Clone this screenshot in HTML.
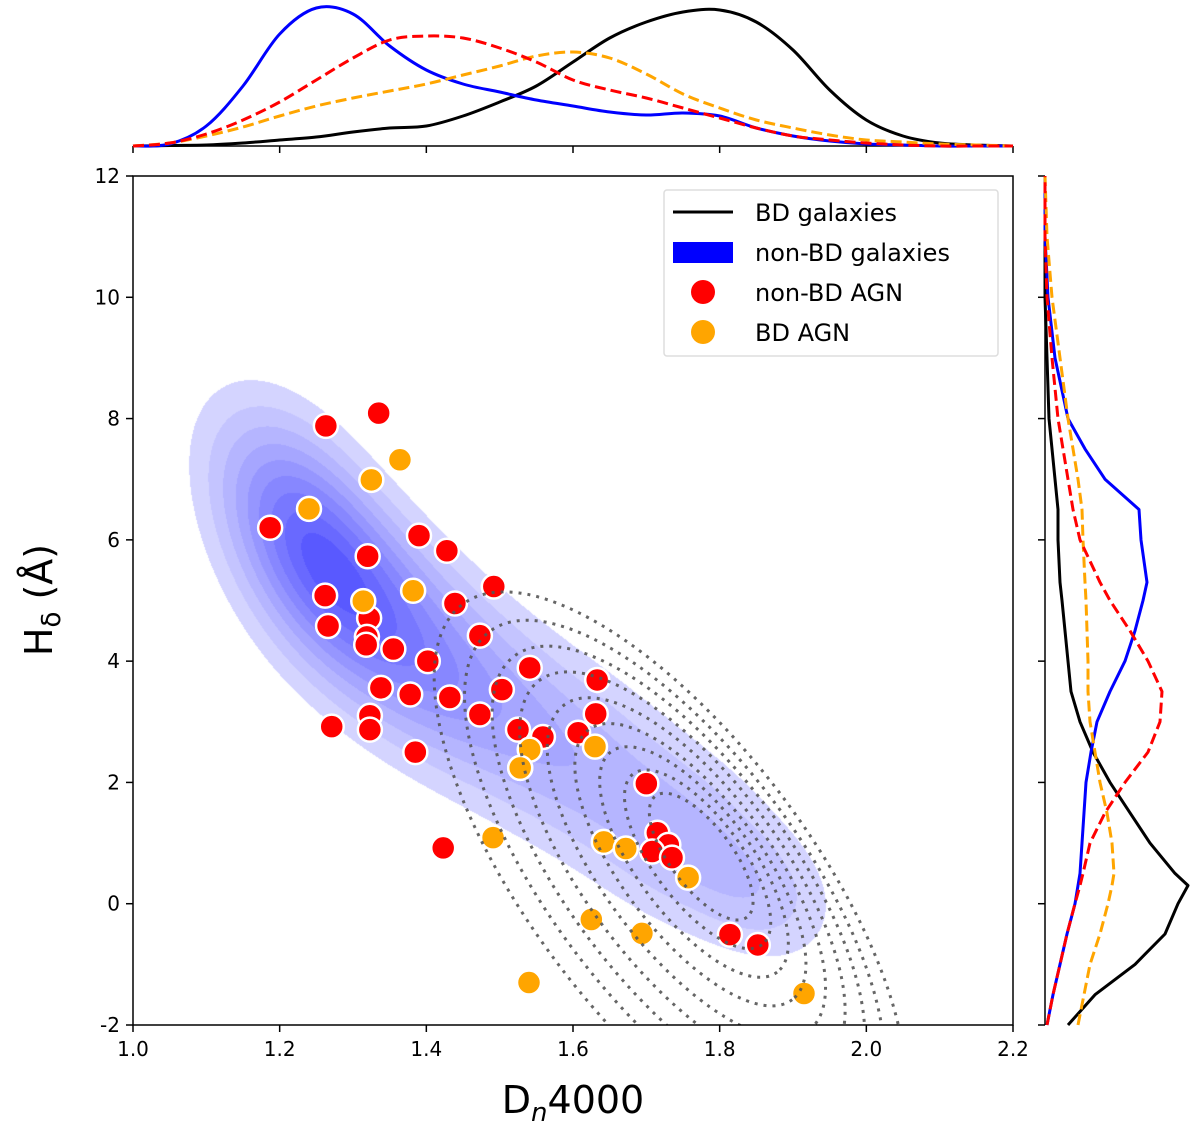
<!DOCTYPE html>
<html><head><meta charset="utf-8">
<style>
html,body{margin:0;padding:0;background:#fff;overflow:hidden;width:1200px;height:1147px;}
#wrap{position:relative;width:1200px;height:1147px;overflow:hidden;font-family:"DejaVu Sans","Liberation Sans",sans-serif;}
canvas,svg{position:absolute;left:0;top:0;display:block;}
</style></head>
<body>
<div id="wrap">
<canvas id="kde" width="1200" height="1147"></canvas>
<svg id="svg" width="1200" height="1147" xmlns="http://www.w3.org/2000/svg"></svg>
</div>
<script>
// ---- data ----
const xTicks = [1.0,1.2,1.4,1.6,1.8,2.0,2.2];
const yTicks = [-2,0,2,4,6,8,10,12];
const redX = [1.263,1.335,1.187,1.262,1.266,1.320,1.322,1.319,1.318,1.390,1.428,1.355,1.402,1.439,1.473,1.492,1.338,1.378,1.432,1.323,1.323,1.271,1.385,1.473,1.503,1.541,1.525,1.559,1.528,1.607,1.631,1.633,1.700,1.423,1.715,1.730,1.708,1.735,1.814,1.852];
const redY = [7.88,8.09,6.20,5.08,4.58,5.73,4.71,4.40,4.27,6.07,5.82,4.20,4.00,4.95,4.42,5.23,3.56,3.45,3.40,3.10,2.87,2.92,2.50,3.12,3.53,3.89,2.87,2.75,2.24,2.82,3.13,3.69,1.98,0.92,1.17,0.97,0.86,0.76,-0.51,-0.68];
const orgX = [1.240,1.325,1.364,1.314,1.382,1.541,1.528,1.630,1.491,1.642,1.672,1.757,1.625,1.694,1.540,1.915];
const orgY = [6.51,6.99,7.32,4.99,5.16,2.54,2.24,2.59,1.09,1.02,0.91,0.43,-0.26,-0.49,-1.30,-1.48];
const mX = [1.00,1.05,1.10,1.15,1.20,1.25,1.30,1.35,1.40,1.45,1.50,1.55,1.60,1.65,1.70,1.75,1.80,1.85,1.90,1.95,2.00,2.05,2.10,2.15,2.20];
const topBlack = [0,0.5,1,3,6,9,14,18,20,30,44,60,84,108,124,134,136,124,96,56,26,10,3,1,0];
const topBlue  = [0,2,20,60,112,138,132,100,76,62,54,46,40,34,31,33,30,18,10,5,2,1,0,0,0];
const topRed   = [0,3,12,26,44,66,88,106,110,108,98,84,66,56,48,38,28,18,10,6,3,1,0,0,0];
const topOrg   = [0,3,10,19,30,40,48,55,62,71,80,90,94,88,72,52,38,26,18,11,6,4,2,1,0];
const mY = [-2,-1.5,-1,-0.5,0,0.3,0.5,1,1.5,2,2.5,3,3.5,4,4.5,5,5.3,6,6.5,7,7.5,8,9,10,11,12];
const rBlack = [23,50,90,120,133,143,130,105,85,65,48,35,26,23,20,17,15,13,13,10,7,4,2,0,0,0];
const rBlue  = [2,8,15,22,30,33,35,37,39,41,46,52,65,80,90,98,102,96,94,60,40,23,10,3,0,0];
const rRed   = [2,8,15,22,30,35,38,45,60,80,103,115,117,103,85,65,55,35,28,23,18,13,7,2,0,0];
const rOrg   = [33,39,45,55,63,67,69,67,62,55,50,45,43,43,42,41,40,38,37,33,28,23,15,7,2,0];

const X0=133,X1=1013,Y0=1025,Y1=176;
const sx = v => X0+(v-1.0)/1.2*(X1-X0);
const sy = v => Y0-(v+2)/14*(Y0-Y1);
const TB=146;
const RX=1045;

// ---- blue filled density ----
(function(){
  const c=document.getElementById('kde').getContext('2d');
  const comps=[[298,525,88,50,62,1.0],[372,610,80,56,50,0.8],[465,690,75,60,40,0.55],[575,760,75,62,38,0.45],[685,840,70,58,38,0.45],[770,900,55,45,38,0.3]];
  const W=X1-X0,H=Y0-Y1;
  const img=c.createImageData(W,H);
  let max=0; const D=new Float32Array(W*H);
  const pre=comps.map(k=>{const a=k[4]*Math.PI/180;return [k[0],k[1],k[2],k[3],Math.cos(a),Math.sin(a),k[5]];});
  for(let j=0;j<H;j++)for(let i=0;i<W;i++){
    const px=i+X0,py=j+Y1; let d=0;
    for(const k of pre){const dx=px-k[0],dy=py-k[1];const u=dx*k[4]+dy*k[5],v=-dx*k[5]+dy*k[4];d+=k[6]*Math.exp(-0.5*(u*u/(k[2]*k[2])+v*v/(k[3]*k[3])));}
    D[j*W+i]=d; if(d>max)max=d;
  }
  const th=[0.14,0.24,0.34,0.44,0.54,0.64,0.74,0.84,0.93];
  for(let p=0;p<W*H;p++){
    const r=D[p]/max; let L=0; for(const t of th) if(r>=t) L++;
    if(L>0){const a=0.11+L*0.06; img.data[p*4]=Math.round(255*(1-a)); img.data[p*4+1]=Math.round(255*(1-a)); img.data[p*4+2]=255; img.data[p*4+3]=255;}
  }
  c.putImageData(img,X0,Y1);
})();

const NS='http://www.w3.org/2000/svg';
const svg=document.getElementById('svg');
function mk(tag,attrs,parent){const e=document.createElementNS(NS,tag);for(const k in attrs)e.setAttribute(k,attrs[k]);(parent||svg).appendChild(e);return e;}
function smooth(pts){
  let d='M'+pts[0][0].toFixed(1)+','+pts[0][1].toFixed(1);
  for(let i=0;i<pts.length-1;i++){
    const p0=pts[Math.max(0,i-1)],p1=pts[i],p2=pts[i+1],p3=pts[Math.min(pts.length-1,i+2)];
    const c1=[p1[0]+(p2[0]-p0[0])/6,p1[1]+(p2[1]-p0[1])/6],c2=[p2[0]-(p3[0]-p1[0])/6,p2[1]-(p3[1]-p1[1])/6];
    d+='C'+c1[0].toFixed(1)+','+c1[1].toFixed(1)+' '+c2[0].toFixed(1)+','+c2[1].toFixed(1)+' '+p2[0].toFixed(1)+','+p2[1].toFixed(1);
  }
  return d;
}

const defs=mk('defs',{});
const cp=mk('clipPath',{id:'clipMain'},defs);
mk('rect',{x:X0,y:Y1,width:X1-X0,height:Y0-Y1},cp);

const ptsG=mk('g',{'clip-path':'url(#clipMain)'});


for(let i=0;i<redX.length;i++){
  const c=mk('circle',{cx:sx(redX[i]),cy:sy(redY[i]),r:12,fill:'#ff0000',stroke:'#fff','stroke-width':2.5},ptsG);
  
  
}
for(let i=0;i<orgX.length;i++){
  const c=mk('circle',{cx:sx(orgX[i]),cy:sy(orgY[i]),r:12,fill:'#ffa500',stroke:'#fff','stroke-width':2.5},ptsG);
  
  
}

const ctG=mk('g',{'clip-path':'url(#clipMain)'});


const scales=[1,0.89,0.79,0.69,0.59,0.49,0.40,0.31,0.22];
scales.forEach(s=>{
  const cx=670+(1-s)*40, cy=880-(1-s)*30;
  const e=mk('ellipse',{cx:cx,cy:cy,rx:345*s,ry:140*s,transform:`rotate(53 ${cx} ${cy})`,fill:'none',stroke:'#555','stroke-opacity':0.9,'stroke-width':3,'stroke-dasharray':'3 6'},ctG);
  
  
});

const fr=mk('rect',{x:X0,y:Y1,width:X1-X0,height:Y0-Y1,fill:'none',stroke:'#000','stroke-width':1.5});



xTicks.forEach(t=>{
  mk('line',{x1:sx(t),x2:sx(t),y1:Y0,y2:Y0+7,stroke:'#000','stroke-width':1.5});
  mk('line',{x1:sx(t),x2:sx(t),y1:TB,y2:TB+7,stroke:'#000','stroke-width':1.5});
  const tx=mk('text',{x:sx(t),y:Y0+31,'font-size':20,'text-anchor':'middle',fill:'#000'});
  tx.textContent=t.toFixed(1);
  
  
});
yTicks.forEach(t=>{
  mk('line',{x1:X0-7,x2:X0,y1:sy(t),y2:sy(t),stroke:'#000','stroke-width':1.5});
  mk('line',{x1:RX-7,x2:RX,y1:sy(t),y2:sy(t),stroke:'#000','stroke-width':1.5});
  const tx=mk('text',{x:X0-13,y:sy(t)+7,'font-size':20,'text-anchor':'end',fill:'#000'});
  tx.textContent=t;
  
  
});

const xl=mk('text',{x:573,y:1113,'font-size':38,'text-anchor':'middle',fill:'#000'});
xl.innerHTML='D<tspan font-size="26" dy="8" font-style="italic">n</tspan><tspan dy="-8">4000</tspan>';


const yl=mk('text',{x:0,y:0,'font-size':38,'text-anchor':'middle',fill:'#000',transform:'translate(52,600) rotate(-90)'});
yl.innerHTML='H<tspan font-size="26" dy="8">δ</tspan><tspan dy="-8"> (Å)</tspan>';



mk('line',{x1:X0,x2:X1,y1:TB,y2:TB,stroke:'#000','stroke-width':1.5});
function topPath(arr,color,dash,name){
  const pts=arr.map((v,i)=>[sx(mX[i]),TB-v]);
  const p=mk('path',{d:smooth(pts),fill:'none',stroke:color,'stroke-width':3,'stroke-dasharray':dash||'none','stroke-linejoin':'round'});
  
  
}
topPath(topBlack,'#000',null,'top-bd-galaxies-curve');
topPath(topBlue,'#0000ff',null,'top-non-bd-galaxies-curve');
topPath(topOrg,'#ffa500','11 5','top-bd-agn-curve');
topPath(topRed,'#ff0000','11 5','top-non-bd-agn-curve');

mk('line',{x1:RX,x2:RX,y1:Y1,y2:Y0,stroke:'#000','stroke-width':1.5});
function rPath(arr,color,dash,name){
  let d='';arr.forEach((v,i)=>{d+=(i?'L':'M')+(RX+v).toFixed(1)+','+sy(mY[i]).toFixed(1);});
  const p=mk('path',{d:d,fill:'none',stroke:color,'stroke-width':3,'stroke-dasharray':dash||'none','stroke-linejoin':'round'});
  
  
}
rPath(rBlack,'#000',null,'right-bd-galaxies-curve');
rPath(rBlue,'#0000ff',null,'right-non-bd-galaxies-curve');
rPath(rOrg,'#ffa500','11 5','right-bd-agn-curve');
rPath(rRed,'#ff0000','11 5','right-non-bd-agn-curve');

const lg=mk('g',{});


mk('rect',{x:664,y:190,width:334,height:166,rx:3,fill:'#fff','fill-opacity':0.85,stroke:'#ddd','stroke-width':1.5},lg);
const items=[['line','#000','BD galaxies'],['rect','#0000ff','non-BD galaxies'],['dot','#ff0000','non-BD AGN'],['dot','#ffa500','BD AGN']];
items.forEach((it,i)=>{
  const y=212+i*40;
  const g=mk('g',{},lg);
  
  
  if(it[0]==='line') mk('line',{x1:673,x2:733,y1:y,y2:y,stroke:it[1],'stroke-width':3},g);
  else if(it[0]==='rect') mk('rect',{x:673,y:y-10,width:60,height:21,fill:it[1]},g);
  else mk('circle',{cx:703,cy:y,r:12,fill:it[1]},g);
  const t=mk('text',{x:755,y:y+9,'font-size':24,fill:'#000'},g);
  t.textContent=it[2];
});
</script>
</body></html>
